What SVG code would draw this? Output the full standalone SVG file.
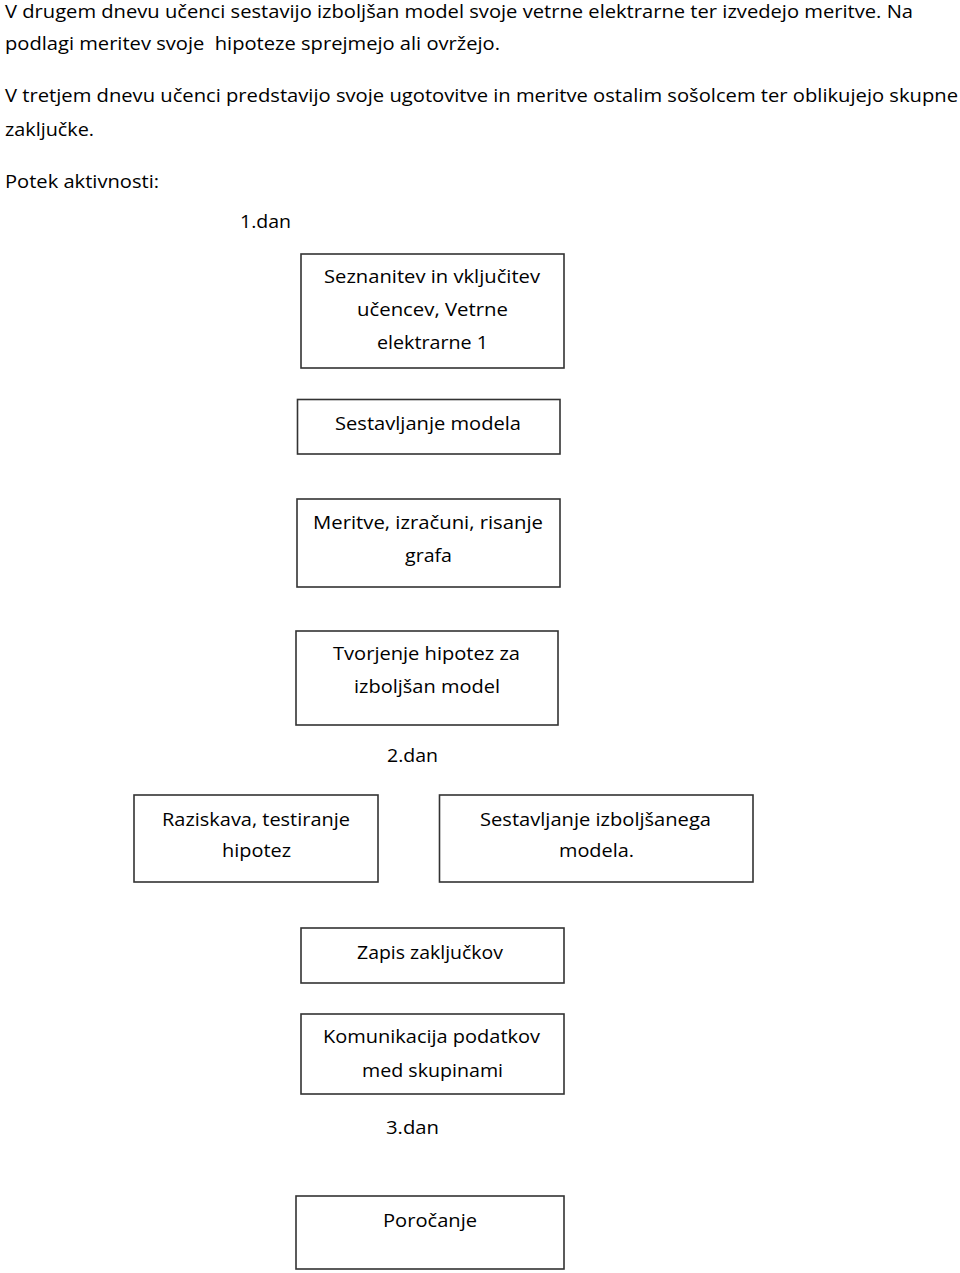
<svg xmlns="http://www.w3.org/2000/svg" width="960" height="1273" viewBox="0 0 960 1273">
<style>
  text { font-family: "Open Sans", "Noto Sans", "Liberation Sans", sans-serif; font-size: 18.5px; fill: #000000; }
  .box { fill: #ffffff; stroke: #333333; stroke-width: 1.6; }
</style>
<rect x="0" y="0" width="960" height="1273" fill="#ffffff"/>
<g id="intro">
  <text x="5" y="17.5" textLength="908" lengthAdjust="spacingAndGlyphs">V drugem dnevu učenci sestavijo izboljšan model svoje vetrne elektrarne ter izvedejo meritve. Na</text>
  <text x="5" y="50" textLength="495" lengthAdjust="spacingAndGlyphs" xml:space="preserve">podlagi meritev svoje  hipoteze sprejmejo ali ovržejo.</text>
  <text x="5" y="102" textLength="953" lengthAdjust="spacingAndGlyphs">V tretjem dnevu učenci predstavijo svoje ugotovitve in meritve ostalim sošolcem ter oblikujejo skupne</text>
  <text x="5" y="135.5" textLength="89" lengthAdjust="spacingAndGlyphs">zaključke.</text>
  <text x="5" y="187.5" textLength="154" lengthAdjust="spacingAndGlyphs">Potek aktivnosti:</text>
</g>
<g id="day1-label"><text x="240" y="228" textLength="51" lengthAdjust="spacingAndGlyphs">1.dan</text></g>
<g id="node-seznanitev">
  <rect class="box" x="301" y="254" width="263" height="114"/>
  <text x="324" y="283" textLength="216" lengthAdjust="spacingAndGlyphs">Seznanitev in vključitev</text>
  <text x="357" y="316" textLength="151" lengthAdjust="spacingAndGlyphs">učencev, Vetrne</text>
  <text x="377" y="349" textLength="111" lengthAdjust="spacingAndGlyphs">elektrarne 1</text>
</g>
<g id="node-sestavljanje">
  <rect class="box" x="297.5" y="399.5" width="262.5" height="54.5"/>
  <text x="335" y="430" textLength="186" lengthAdjust="spacingAndGlyphs">Sestavljanje modela</text>
</g>
<g id="node-meritve">
  <rect class="box" x="297" y="499" width="263" height="88"/>
  <text x="313" y="529" textLength="230" lengthAdjust="spacingAndGlyphs">Meritve, izračuni, risanje</text>
  <text x="405" y="562" textLength="47" lengthAdjust="spacingAndGlyphs">grafa</text>
</g>
<g id="node-tvorjenje">
  <rect class="box" x="296" y="631" width="262" height="94"/>
  <text x="333" y="660" textLength="187" lengthAdjust="spacingAndGlyphs">Tvorjenje hipotez za</text>
  <text x="354" y="693" textLength="146" lengthAdjust="spacingAndGlyphs">izboljšan model</text>
</g>
<g id="day2-label"><text x="387" y="762" textLength="51" lengthAdjust="spacingAndGlyphs">2.dan</text></g>
<g id="node-raziskava">
  <rect class="box" x="134" y="795" width="244" height="87"/>
  <text x="162" y="825.5" textLength="188" lengthAdjust="spacingAndGlyphs">Raziskava, testiranje</text>
  <text x="222" y="857" textLength="69" lengthAdjust="spacingAndGlyphs">hipotez</text>
</g>
<g id="node-izboljsan">
  <rect class="box" x="439.5" y="795" width="313.5" height="87"/>
  <text x="480" y="825.5" textLength="231" lengthAdjust="spacingAndGlyphs">Sestavljanje izboljšanega</text>
  <text x="559" y="857" textLength="75" lengthAdjust="spacingAndGlyphs">modela.</text>
</g>
<g id="node-zapis">
  <rect class="box" x="301" y="928" width="263" height="55"/>
  <text x="357" y="959" textLength="146" lengthAdjust="spacingAndGlyphs">Zapis zaključkov</text>
</g>
<g id="node-komunikacija">
  <rect class="box" x="301" y="1014" width="263" height="80"/>
  <text x="323" y="1043" textLength="217" lengthAdjust="spacingAndGlyphs">Komunikacija podatkov</text>
  <text x="362" y="1077" textLength="141" lengthAdjust="spacingAndGlyphs">med skupinami</text>
</g>
<g id="day3-label"><text x="386" y="1134" textLength="53" lengthAdjust="spacingAndGlyphs">3.dan</text></g>
<g id="node-porocanje">
  <rect class="box" x="296" y="1196" width="268" height="73"/>
  <text x="383" y="1227" textLength="94" lengthAdjust="spacingAndGlyphs">Poročanje</text>
</g>
<g id="connectors"></g>
</svg>
